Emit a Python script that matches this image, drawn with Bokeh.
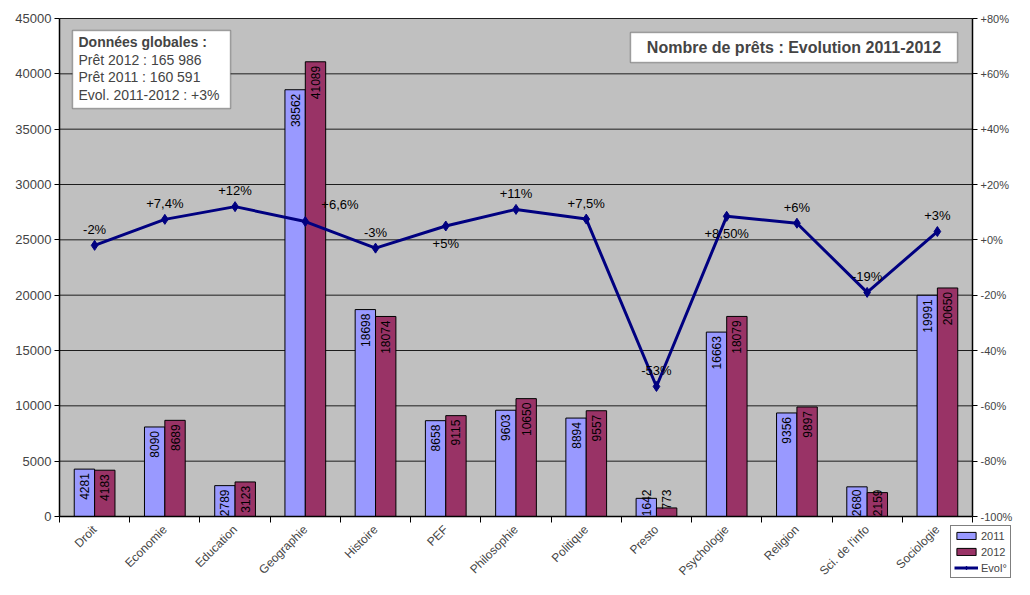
import math
import numpy as np
from bokeh.plotting import figure
from bokeh.models import (Range1d, LinearAxis, FixedTicker, ColumnDataSource, BoxAnnotation,
                          Label, Legend, LegendItem, BasicTickFormatter)
from bokeh.core.properties import value
from bokeh.embed import file_html
from bokeh.resources import INLINE

categories = ["Droit", "Economie", "Education", "Geographie", "Histoire", "PEF", "Philosophie",
              "Politique", "Presto", "Psychologie", "Religion", "Sci. de l'info", "Sociologie"]
loans_2011 = [4281, 8090, 2789, 38562, 18698, 8658, 9603, 8894, 1642, 16663, 9356, 2680, 19991]
loans_2012 = [4183, 8689, 3123, 41089, 18074, 9115, 10650, 9557, 773, 18079, 9897, 2159, 20650]
evolution = [-2, 7.4, 12, 6.6, -3, 5, 11, 7.5, -53, 8.5, 6, -19, 3]
evolution_labels = ["-2%", "+7,4%", "+12%", "+6,6%", "-3%", "+5%", "+11%", "+7,5%", "-53%",
                    "+8,50%", "+6%", "-19%", "+3%"]
label_side = ["above", "above", "above", "right", "above", "below", "above", "above", "above",
              "below", "above", "above", "above"]
left_ticks = list(range(0, 45001, 5000))
right_ticks = list(range(-100, 81, 20))
info_lines = ["Données globales :", "Prêt 2012 : 165 986", "Prêt 2011 : 160 591",
              "Evol. 2011-2012 : +3%"]
title_text = "Nombre de prêts : Evolution 2011-2012"

FONT = "Liberation Sans"
C2011 = "#9999FF"
C2012 = "#993366"
CLINE = "#000080"
CBG = "#C0C0C0"

# canvas and plot-area geometry (pixels)
W, H = 1014, 579
PX_L, PX_R = 59, 972
PX_T, PX_B = 18, 516

n = len(categories)
idx = np.arange(n)
bw = 0.29
YMAX = 45000
EMIN, EMAX = -100, 80

ux = (PX_R - PX_L) / n
x_start, x_end = -0.5 - PX_L / ux, n - 0.5 + (W - PX_R) / ux
uy = (PX_B - PX_T) / YMAX
y_start, y_end = -(H - PX_B) / uy, YMAX + PX_T / uy
ue = (PX_B - PX_T) / (EMAX - EMIN)
e_start, e_end = EMIN - (H - PX_B) / ue, EMAX + PX_T / ue


def dx(px):
    return x_start + px / ux


def dy(py):
    return y_end - py / uy


p = figure(width=W, height=H, x_range=Range1d(x_start, x_end), y_range=Range1d(y_start, y_end),
           output_backend="svg", toolbar_location=None,
           min_border=0, min_border_left=0, min_border_right=0, min_border_top=0,
           min_border_bottom=0,
           background_fill_color="white", border_fill_color="white", outline_line_color=None)
p.extra_y_ranges = {"evo": Range1d(e_start, e_end)}
p.xgrid.visible = False
p.ygrid.visible = False

# plot area background and gridlines
p.quad(left=-0.5, right=n - 0.5, bottom=0, top=YMAX, fill_color=CBG, line_color=None)
p.segment(x0=-0.5, x1=n - 0.5, y0=left_ticks[1:], y1=left_ticks[1:], line_color="black",
          line_width=1, line_alpha=0.85)

# left axis
ya = p.yaxis[0]
ya.fixed_location = -0.5
ya.bounds = (0, YMAX)
ya.ticker = FixedTicker(ticks=left_ticks, minor_ticks=[])
ya.formatter = BasicTickFormatter(use_scientific=False)
ya.major_tick_out = 5
ya.major_tick_in = 0
ya.axis_line_color = "black"
ya.axis_line_width = 1.5
ya.major_label_text_font = FONT
ya.major_label_text_font_size = "13px"
ya.major_label_standoff = 3

# x axis
xa = p.xaxis[0]
xa.fixed_location = 0
xa.bounds = (-0.5, n - 0.5)
xa.ticker = FixedTicker(ticks=list(range(n)), minor_ticks=[i - 0.5 for i in range(n + 1)])
xa.major_label_overrides = {i: c for i, c in enumerate(categories)}
xa.major_tick_line_color = None
xa.minor_tick_out = 6
xa.minor_tick_in = 0
xa.minor_tick_line_color = "black"
xa.axis_line_color = "black"
xa.axis_line_width = 1.5
xa.major_label_orientation = math.pi / 4
xa.major_label_text_font = FONT
xa.major_label_text_font_size = "12px"
xa.major_label_standoff = 5

# right axis
ra = LinearAxis(y_range_name="evo", ticker=FixedTicker(ticks=right_ticks, minor_ticks=[]),
                major_label_overrides={t: f"{t:+d}%" for t in right_ticks})
ra.fixed_location = n - 0.5
ra.bounds = (EMIN, EMAX)
ra.major_tick_out = 5
ra.major_tick_in = 0
ra.axis_line_color = "black"
ra.axis_line_width = 1.5
ra.major_label_text_font = FONT
ra.major_label_text_font_size = "11px"
ra.major_label_standoff = 3
p.add_layout(ra, "right")

src = ColumnDataSource(dict(
    x11=idx - bw / 2, x12=idx + bw / 2,
    v11=loans_2011, v12=loans_2012,
    t11=[str(v) for v in loans_2011], t12=[str(v) for v in loans_2012],
    ly11=np.maximum(loans_2011, 2800), ly12=np.maximum(loans_2012, 2800),
))

b11 = p.vbar(x="x11", top="v11", width=bw, source=src, fill_color=C2011, line_color="black", line_width=1)
b12 = p.vbar(x="x12", top="v12", width=bw, source=src, fill_color=C2012, line_color="black", line_width=1)

for xcol, ycol, tcol in (("x11", "ly11", "t11"), ("x12", "ly12", "t12")):
    p.text(x=xcol, y=ycol, text=tcol, source=src, angle=math.pi / 2, text_align="right",
           text_baseline="middle", y_offset=4, text_font=value(FONT), text_font_size="12px",
           text_color="black")

ln = p.line(x=idx, y=evolution, y_range_name="evo", line_color=CLINE, line_width=3)
mk = p.scatter(x=idx, y=evolution, y_range_name="evo", marker="diamond", size=10,
               fill_color=CLINE, line_color=CLINE)

offsets = {"above": (0, -16, "center"), "below": (0, 17, "center"), "right": (16, -17, "left")}
for side, (ox, oy, align) in offsets.items():
    sel = [i for i in range(n) if label_side[i] == side]
    if not sel:
        continue
    p.text(x=[idx[i] for i in sel], y=[evolution[i] for i in sel],
           text=[evolution_labels[i] for i in sel], y_range_name="evo",
           x_offset=ox, y_offset=oy, text_align=align, text_baseline="middle",
           text_font=value(FONT), text_font_size="13px", text_color="black")

# info box
p.add_layout(BoxAnnotation(left=dx(72), right=dx(230), top=dy(30), bottom=dy(108),
                           fill_color="white", fill_alpha=1, line_color="black", line_width=1.5))
for i, (t, py) in enumerate(zip(info_lines, [41, 59, 76, 94])):
    p.add_layout(Label(x=dx(78), y=dy(py), text=t, text_font=FONT, text_font_size="14px",
                       text_font_style="bold" if i == 0 else "normal",
                       text_baseline="middle", text_align="left"))

# title box
p.add_layout(BoxAnnotation(left=dx(630), right=dx(957), top=dy(32), bottom=dy(62),
                           fill_color="white", fill_alpha=1, line_color="black", line_width=1.5))
p.add_layout(Label(x=dx(793.5), y=dy(47), text=title_text, text_font=FONT, text_font_size="16px",
                   text_font_style="bold", text_align="center", text_baseline="middle"))

legend = Legend(items=[LegendItem(label="2011", renderers=[b11]),
                       LegendItem(label="2012", renderers=[b12]),
                       LegendItem(label="Evol°", renderers=[ln, mk])],
                location=(950, 1), border_line_color="black", border_line_width=1,
                background_fill_color="white", background_fill_alpha=1,
                label_text_font=FONT, label_text_font_size="11px", label_height=13,
                glyph_height=9, glyph_width=24, spacing=3, padding=3, margin=0,
                label_standoff=3)
p.add_layout(legend, "center")

open("out.html", "w").write(file_html(p, INLINE))
